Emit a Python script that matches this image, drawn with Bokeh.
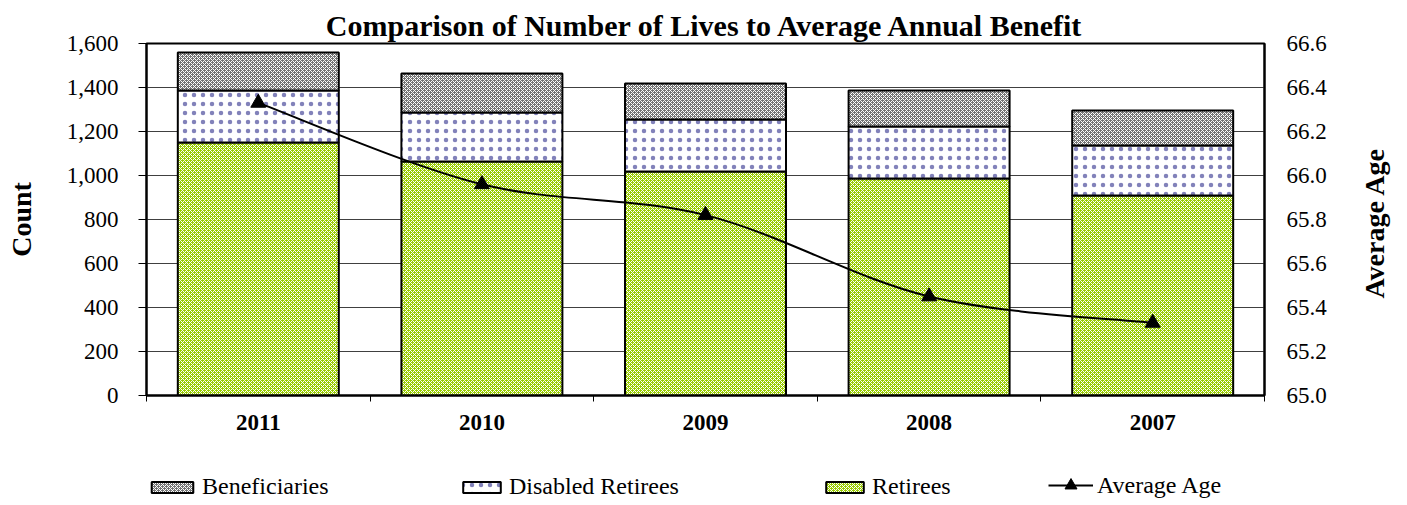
import math
import numpy as np
from bokeh.plotting import figure
from bokeh.layouts import column, row
from bokeh.models import (Range1d, LinearAxis, FixedTicker, NumeralTickFormatter,
                          Legend, LegendItem, Label)
from bokeh.embed import file_html
from bokeh.resources import INLINE

# ---------------- data ----------------
years = ["2011", "2010", "2009", "2008", "2007"]
retirees = [1150, 1064, 1018, 986, 909]
disabled = [236, 222, 237, 237, 227]
beneficiaries = [173, 178, 163, 163, 159]
avg_age = [66.33, 65.96, 65.82, 65.45, 65.33]
count_ticks = [0, 200, 400, 600, 800, 1000, 1200, 1400, 1600]
age_ticks = [65.0, 65.2, 65.4, 65.6, 65.8, 66.0, 66.2, 66.4, 66.6]

FONT = "Liberation Serif"
n = len(years)
xc = [i + 0.5 for i in range(n)]

ret = np.array(retirees, dtype=float)
dis = np.array(disabled, dtype=float)
ben = np.array(beneficiaries, dtype=float)

TOTAL_W = 1391
LEG_H = 58
RB = 80                       # right border of main plot (tick labels only)
MAIN_W = 146 + 1118 + RB
SIDE_W = TOTAL_W - MAIN_W     # narrow strip holding the right axis title

p = figure(frame_width=1118, frame_height=352,
           x_range=Range1d(0, n), y_range=Range1d(count_ticks[0], count_ticks[-1]),
           output_backend="svg", toolbar_location=None,
           min_border_left=146, min_border_right=RB, min_border_top=43, min_border_bottom=47,
           background_fill_color="white", border_fill_color="white")

p.title.text = "Comparison of Number of Lives to Average Annual Benefit"
p.title.align = "center"
p.title.text_font = FONT
p.title.text_font_size = "30px"
p.title.text_font_style = "bold"
p.title.text_color = "black"
p.title.standoff = 4

p.outline_line_color = "black"
p.outline_line_width = 2

p.extra_y_ranges = {"age": Range1d(age_ticks[0], age_ticks[-1])}

# ---------------- axes ----------------
xa = p.xaxis[0]
xa.ticker = FixedTicker(ticks=xc, minor_ticks=list(range(n + 1)))
xa.major_label_overrides = {float(x): y for x, y in zip(xc, years)}
xa.major_tick_out = 0
xa.major_tick_in = 0
xa.minor_tick_out = 6
xa.minor_tick_in = 0
xa.minor_tick_line_color = "black"
xa.axis_line_color = "black"
xa.axis_line_width = 2
xa.major_label_text_font = FONT
xa.major_label_text_font_size = "23px"
xa.major_label_text_font_style = "bold"
xa.major_label_text_color = "black"
xa.major_label_standoff = 13

ya = p.yaxis[0]
ya.ticker = FixedTicker(ticks=count_ticks)
ya.formatter = NumeralTickFormatter(format="0,0")
ya.major_tick_out = 8
ya.major_tick_in = 0
ya.minor_tick_line_color = None
ya.major_tick_line_color = "black"
ya.axis_line_color = "black"
ya.axis_line_width = 2
ya.major_label_text_font = FONT
ya.major_label_text_font_size = "23px"
ya.major_label_text_color = "black"
ya.major_label_standoff = 20
ya.axis_label = "Count"
ya.axis_label_text_font = FONT
ya.axis_label_text_font_size = "28px"
ya.axis_label_text_font_style = "bold"
ya.axis_label_text_color = "black"
ya.axis_label_standoff = 27

ra = LinearAxis(y_range_name="age", ticker=FixedTicker(ticks=age_ticks),
                formatter=NumeralTickFormatter(format="0.0"))
ra.major_tick_out = 0
ra.major_tick_in = 0
ra.minor_tick_line_color = None
ra.axis_line_color = "black"
ra.axis_line_width = 2
ra.major_label_text_font = FONT
ra.major_label_text_font_size = "23px"
ra.major_label_text_color = "black"
ra.major_label_standoff = 22
p.add_layout(ra, "right")

p.xgrid.visible = False
p.ygrid.ticker = FixedTicker(ticks=count_ticks)
p.ygrid.grid_line_color = "#404040"
p.ygrid.grid_line_width = 1

# ---------------- bar styles ----------------
BW = 0.72
style_ret = dict(fill_color="#99cc00", hatch_pattern="diagonal_cross", hatch_color="white",
                 hatch_scale=4, hatch_weight=1, line_color="black", line_width=2)
style_dis = dict(fill_color="white", hatch_pattern="dot", hatch_color="#8282ba",
                 hatch_scale=9, hatch_weight=1, line_color="black", line_width=2)
style_ben = dict(fill_color="#737373", hatch_pattern="diagonal_cross", hatch_color="white",
                 hatch_scale=4, hatch_weight=1, line_color="black", line_width=2)

p.vbar(x=xc, width=BW, bottom=0, top=ret, **style_ret)
p.vbar(x=xc, width=BW, bottom=ret, top=ret + dis, **style_dis)
p.vbar(x=xc, width=BW, bottom=ret + dis, top=ret + dis + ben, **style_ben)

# ---------------- smoothed average-age line ----------------
P = list(zip(xc, avg_age))
bx0, by0, bx1, by1, cx0, cy0, cx1, cy1 = [], [], [], [], [], [], [], []
for i in range(n - 1):
    pm = P[max(i - 1, 0)]
    a = P[i]
    b = P[i + 1]
    q2 = P[min(i + 2, n - 1)]
    bx0.append(a[0]); by0.append(a[1])
    bx1.append(b[0]); by1.append(b[1])
    cx0.append(a[0] + (b[0] - pm[0]) / 6.0); cy0.append(a[1] + (b[1] - pm[1]) / 6.0)
    cx1.append(b[0] - (q2[0] - a[0]) / 6.0); cy1.append(b[1] - (q2[1] - a[1]) / 6.0)
p.bezier(x0=bx0, y0=by0, x1=bx1, y1=by1, cx0=cx0, cy0=cy0, cx1=cx1, cy1=cy1,
         y_range_name="age", line_color="black", line_width=2)
p.scatter(x=xc, y=avg_age, y_range_name="age", marker="triangle", size=15,
          fill_color="black", line_color="black")

# ---------------- right-axis title strip ----------------
r = figure(width=SIDE_W, height=p.min_border_top + 352 + p.min_border_bottom,
           x_range=Range1d(0, SIDE_W), y_range=Range1d(0, 1),
           output_backend="svg", toolbar_location=None, min_border=0,
           x_axis_type=None, y_axis_type=None, outline_line_color=None,
           background_fill_color="white", border_fill_color="white")
r.xgrid.visible = False
r.ygrid.visible = False
r.add_layout(Label(x=SIDE_W - 17, y=0.49, text="Average Age", angle=math.pi / 2,
                   text_align="center", text_baseline="middle",
                   text_font=FONT, text_font_size="28px", text_font_style="bold",
                   text_color="black"))

# ---------------- legend strip (separate figure, same styles) ----------------
q = figure(width=TOTAL_W, height=LEG_H, x_range=Range1d(0, 10), y_range=Range1d(0, 10),
           output_backend="svg", toolbar_location=None, min_border=0,
           x_axis_type=None, y_axis_type=None, outline_line_color=None,
           background_fill_color="white", border_fill_color="white")
q.xgrid.visible = False
q.ygrid.visible = False
# hidden legend proxies (only their legend swatches are drawn)
l_ben = q.vbar(x=[5], width=1, bottom=[0], top=[1], visible=False, **style_ben)
l_dis = q.vbar(x=[5], width=1, bottom=[0], top=[1], visible=False, **style_dis)
l_ret = q.vbar(x=[5], width=1, bottom=[0], top=[1], visible=False, **style_ret)
l_line = q.line(x=[4, 6], y=[5, 5], visible=False, line_color="black", line_width=2)
l_pts = q.scatter(x=[5], y=[5], visible=False, marker="triangle", size=15,
                  fill_color="black", line_color="black")

entries = [("Beneficiaries", [l_ben], 146, 52, 14),
           ("Disabled Retirees", [l_dis], 458, 47, 14),
           ("Retirees", [l_ret], 821, 47, 14),
           ("Average Age", [l_line, l_pts], 1048, 45, 30)]
for label, rends, xo, gw, gh in entries:
    leg = Legend(items=[LegendItem(label=label, renderers=rends)],
                 location=(xo, 0), orientation="horizontal",
                 border_line_color=None, background_fill_alpha=0,
                 padding=0, margin=0, spacing=0,
                 glyph_width=gw, glyph_height=gh,
                 label_standoff=4, label_height=20,
                 label_text_font=FONT, label_text_font_size="24px",
                 label_text_color="black")
    q.add_layout(leg, "center")

layout = column(row(p, r, spacing=0), q, spacing=0)
open("out.html", "w").write(file_html(layout, INLINE))
